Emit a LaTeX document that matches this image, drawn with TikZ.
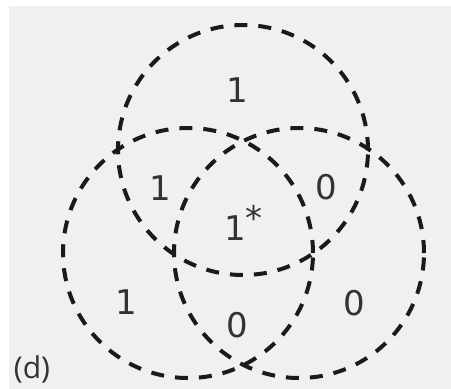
\documentclass[tikz,border=0pt]{standalone}
\usepackage{fontspec}
\newfontfamily\digitfont{DejaVu Sans}
\newfontfamily\labelfont{Open Sans}
\definecolor{bg}{HTML}{F0F0F0}
\definecolor{ink}{HTML}{1A1A1A}
\definecolor{txt}{HTML}{333333}
\begin{document}
\begin{tikzpicture}[x=1pt,y=-1pt,
  ring/.style={circle, draw=ink, line width=4pt, dash pattern=on 13pt off 11pt, minimum size=250pt, inner sep=0pt},
  val/.style={font=\digitfont\fontsize{34}{34}\selectfont, text=txt, inner sep=0pt},
  tag/.style={font=\labelfont\fontsize{30}{30}\selectfont, text=txt, inner sep=0pt}]
\useasboundingbox (0,0) rectangle (451,389);
\fill[white] (0,0) rectangle (451,389);
\fill[bg] (9,6) rectangle (451,389);
\node[ring] (top) at (243,150) {};
\node[ring] (left) at (188,253) {};
\node[ring] (right) at (299,253) {};
\node[val] (a) at (237,90) {1};
\node[val] (b) at (160,188) {1};
\node[val] (c) at (326,187) {0};
\node[val, anchor=base west] (d) at (224,240) {1\raisebox{10pt}{*}};
\node[val] (e) at (126,302) {1};
\node[val] (f) at (237,325) {0};
\node[val] (g) at (354,303) {0};
\node[tag] (lab) at (32,369) {(d)};
\end{tikzpicture}
\end{document}
